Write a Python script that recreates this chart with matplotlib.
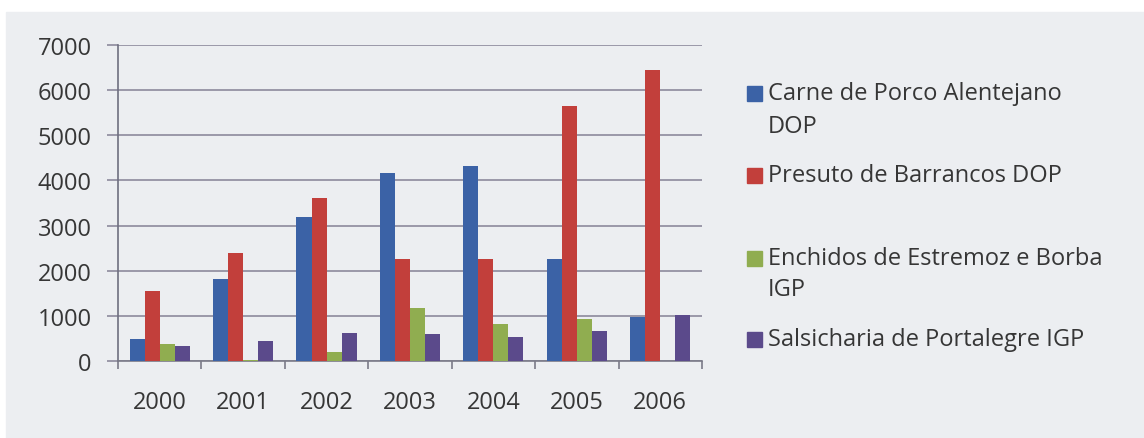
import numpy as np
import matplotlib.pyplot as plt
from matplotlib.patches import Rectangle

years = ["2000", "2001", "2002", "2003", "2004", "2005", "2006"]
carne_porco = [480, 1810, 3190, 4160, 4320, 2250, 980]
presunto_barrancos = [1550, 2400, 3600, 2250, 2250, 5650, 6450]
enchidos_estremoz = [370, 30, 210, 1170, 820, 930, 0]
salsicharia_portalegre = [330, 445, 615, 590, 530, 670, 1020]

labels = ["Carne de Porco Alentejano\nDOP",
          "Presuto de Barrancos DOP",
          "Enchidos de Estremoz e Borba\nIGP",
          "Salsicharia de Portalegre IGP"]
colors = ["#3b62a6", "#c23f3b", "#90ad50", "#5b4a8b"]

plt.rcParams['font.family'] = ['Open Sans', 'DejaVu Sans']
bg = "#eceef1"
txt = "#363636"

fig = plt.figure(figsize=(11.44, 4.39), dpi=100, facecolor="white")
# scanned page area (white strip on top and left)
fig.patches.append(Rectangle((0.005, 0), 0.995, 0.970, color=bg,
                             transform=fig.transFigure, figure=fig, zorder=-10))

ax = fig.add_axes([0.1031, 0.1754, 0.5105, 0.7198])
ax.set_facecolor(bg)

series = [carne_porco, presunto_barrancos, enchidos_estremoz, salsicharia_portalegre]
x = np.arange(len(years))
w = 0.18
for i, vals in enumerate(series):
    ax.bar(x + (i - 1.5) * w, vals, width=w, color=colors[i], zorder=3)

ax.set_xlim(-0.5, len(years) - 0.5)
ax.set_ylim(0, 7000)
ax.set_yticks(range(0, 7001, 1000))
ax.yaxis.grid(True, color="#8c8a9c", linewidth=1.2, zorder=0)

# category separators as x ticks
ax.set_xticks(np.arange(-0.5, len(years), 1.0))
ax.set_xticklabels([])
ax.set_xticks(x, minor=True)
ax.set_xticklabels(years, minor=True)
ax.tick_params(axis="x", which="major", length=6, color="#7a7a88", width=1.2)
ax.tick_params(axis="x", which="minor", length=0, pad=21, labelsize=17, labelcolor=txt)
ax.tick_params(axis="y", length=8, width=1.2, color="#8c8a9c", pad=11, labelsize=17,
               labelcolor=txt)

for s in ["top", "right"]:
    ax.spines[s].set_visible(False)
ax.spines["left"].set_color("#6f6f80")
ax.spines["left"].set_linewidth(1.2)
ax.spines["bottom"].set_color("#7a7a88")
ax.spines["bottom"].set_linewidth(1.2)

# legend drawn by hand: handle sits next to the first line of each label
H = 439.0
line_rows = [[94, 127], [176], [259, 290], [340]]
for lab, c, rows in zip(labels, colors, line_rows):
    y0 = 1 - rows[0] / H
    fig.patches.append(Rectangle((747 / 1144, y0 - 7.5 / H), 15 / 1144, 15 / H, color=c,
                                 transform=fig.transFigure, figure=fig))
    for part, r in zip(lab.split("\n"), rows):
        fig.text(768 / 1144, 1 - r / H, part, fontsize=17, color=txt, va="center",
                 ha="left", transform=fig.transFigure)

fig.savefig("out.png", dpi=100, facecolor="white")
